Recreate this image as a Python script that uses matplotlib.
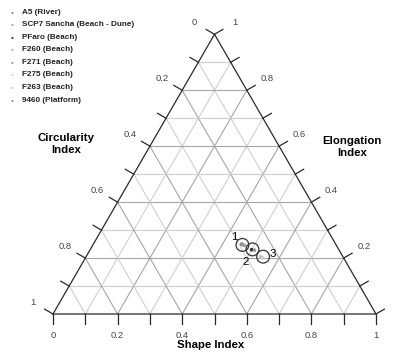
import numpy as np
import matplotlib
matplotlib.use("Agg")
import matplotlib.pyplot as plt

plt.rcParams['font.family'] = ['Liberation Sans', 'DejaVu Sans']

# ---- data ----
samples = ["A5 (River)", "SCP7 Sancha (Beach - Dune)", "PFaro (Beach)", "F260 (Beach)",
           "F271 (Beach)", "F275 (Beach)", "F263 (Beach)", "9460 (Platform)"]
sample_colors = ["#8a8a8a", "#a0a0a0", "#303030", "#b0b0b0", "#9a9a9a", "#d0d0d0", "#c4c4c4", "#8c8c8c"]
shape_idx = [0.46, 0.47, 0.50, 0.46, 0.51, 0.55, 0.54, 0.46]
elong_idx = [0.25, 0.245, 0.23, 0.25, 0.228, 0.20, 0.205, 0.248]

group_labels = ["1", "2", "3"]
group_shape = [0.463, 0.502, 0.548]
group_elong = [0.247, 0.231, 0.205]

tick_vals = [0.0, 0.1, 0.2, 0.3, 0.4, 0.5, 0.6, 0.7, 0.8, 0.9, 1.0]
label_vals = [0, 0.2, 0.4, 0.6, 0.8, 1]
label_text = ["0", "0.2", "0.4", "0.6", "0.8", "1"]

H = np.sqrt(3) / 2


def tern(s, e):
    s = np.asarray(s, float)
    e = np.asarray(e, float)
    return s + e / 2, e * H


fig = plt.figure(figsize=(3.93, 3.53), dpi=100)
ax = fig.add_axes([0, 0, 1, 1])
ax.set_xlim(-53 / 323, 340 / 323)
ax.set_ylim(-39 / 323, 314 / 323)
ax.axis('off')

major_c, minor_c = "#a6a6a6", "#cfcfcf"
for v in tick_vals[1:-1]:
    major = abs(round(v * 10) % 2) == 0
    col = major_c if major else minor_c
    lw = 0.8
    # horizontal (constant elongation)
    ax.plot([0.5 * v, 1 - 0.5 * v], [H * v, H * v], color=col, lw=lw, zorder=1)
    # constant shape (parallel to left edge)
    ax.plot([v, v + 0.5 * (1 - v)], [0, H * (1 - v)], color=col, lw=lw, zorder=1)
    # constant circularity (parallel to right edge)
    ax.plot([(1 - v) / 2, 1 - v], [H * (1 - v), 0], color=col, lw=lw, zorder=1)

# outline
ax.plot([0, 1, 0.5, 0], [0, 0, H, 0], color="#2a2a2a", lw=0.9, zorder=2)

tl = 0.03
ld = 0.072
nl = np.array([-H, 0.5])
nr = np.array([H, 0.5])
for v in tick_vals:
    # bottom axis: shape
    ax.plot([v, v], [0, -tl], color="#2a2a2a", lw=0.9, zorder=2)
    # left axis: circularity (0 at apex, 1 at bottom-left)
    p = np.array([0.5 - 0.5 * v, H * (1 - v)])
    q = p + nl * tl
    ax.plot([p[0], q[0]], [p[1], q[1]], color="#2a2a2a", lw=0.9, zorder=2)
    # right axis: elongation (0 at bottom-right, 1 at apex)
    p = np.array([1 - 0.5 * v, H * v])
    q = p + nr * tl
    ax.plot([p[0], q[0]], [p[1], q[1]], color="#2a2a2a", lw=0.9, zorder=2)

fs_tick = 6.8
tcol = "#444444"
for v, t in zip(label_vals, label_text):
    ax.text(v, (314 - 337.5) / 323, t, ha='center', va='baseline', fontsize=fs_tick, color=tcol)
    p = np.array([0.5 - 0.5 * v, H * (1 - v)]) + nl * ld
    ax.text(p[0], p[1], t, ha='center', va='center', fontsize=fs_tick, color=tcol)
    p = np.array([1 - 0.5 * v, H * v]) + nr * ld
    ax.text(p[0], p[1], t, ha='center', va='center', fontsize=fs_tick, color=tcol)

# axis titles
ax.text((66 - 53) / 323, (314 - 144) / 323, "Circularity\nIndex", ha='center', va='center',
        fontsize=8.2, fontweight='bold', linespacing=1.15)
ax.text((352 - 53) / 323, (314 - 147) / 323, "Elongation\nIndex", ha='center', va='center',
        fontsize=8.2, fontweight='bold', linespacing=1.15)
ax.text((211 - 53) / 323, (314 - 348.5) / 323, "Shape Index", ha='center', va='baseline',
        fontsize=8.2, fontweight='bold')

# sample points
xs, ys = tern(shape_idx, elong_idx)
ax.scatter(xs, ys, s=7, c=sample_colors, zorder=4, linewidths=0)

# group circles
gx, gy = tern(group_shape, group_elong)
ax.scatter(gx, gy, s=85, facecolors='none', edgecolors='#333333', linewidths=0.9, zorder=5)
offsets = [(-8.5, 7.5), (-7, -12.5), (9.5, 2.5)]
for lab, x, y, (dx, dy) in zip(group_labels, gx, gy, offsets):
    ax.text(x + dx / 323, y + dy / 323, lab, ha='center', va='center', fontsize=8.2, zorder=6)

# legend
for i, (name, c) in enumerate(zip(samples, sample_colors)):
    ypx = 12 + i * 12.6
    fy = 1 - ypx / 353
    fig.text(12 / 393, fy, "\u25cf", color=c, fontsize=3.5, ha='center', va='center')
    fig.text(22 / 393, fy, name, fontsize=5.9, fontweight='bold', ha='left', va='center', color="#222222")

fig.savefig("out.png", dpi=100)
